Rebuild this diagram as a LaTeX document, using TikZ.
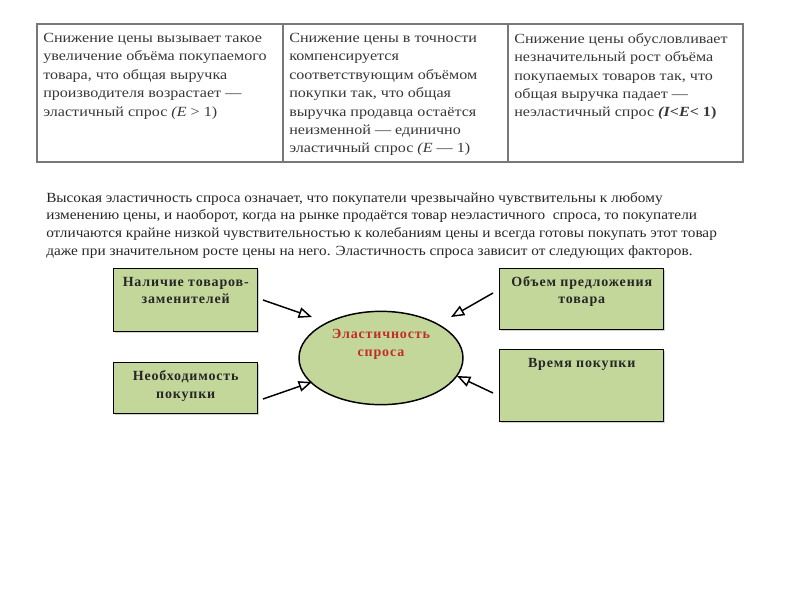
\documentclass[tikz,border=0pt]{standalone}
\usepackage{fontspec}
\setmainfont{Liberation Serif}
\newfontfamily\cellfont[FakeStretch=1.15]{Liberation Serif}
\newfontfamily\parafont[FakeStretch=1.09]{Liberation Serif}
\newfontfamily\boxfont[LetterSpace=6]{Liberation Serif}
\usetikzlibrary{arrows.meta,shapes.geometric,shadows}
\definecolor{boxgreen}{RGB}{196,215,155}
\definecolor{txtgray}{RGB}{55,55,55}
\definecolor{tabline}{RGB}{120,120,120}
\definecolor{elred}{RGB}{192,45,38}
\begin{document}
\begin{tikzpicture}[x=0.75pt,y=-0.75pt,
  celltext/.style={anchor=north west,inner sep=0pt,align=left,text=txtgray,font=\cellfont\fontsize{10.5}{13.8}\selectfont},
  paratext/.style={anchor=north west,inner sep=0pt,align=left,text=black!85,font=\parafont\fontsize{10.5}{13.2}\selectfont},
  fbox/.style={draw=black,line width=1.1pt,fill=boxgreen,rectangle,inner sep=0pt,anchor=north west,drop shadow={shadow xshift=1pt,shadow yshift=-1pt,fill=black!35}},
  boxtext/.style={anchor=north,inner sep=0pt,align=center,text=black!85,font=\boxfont\bfseries\fontsize{10.5}{13}\selectfont},
  conn/.style={line width=1.1pt,-{Triangle[open,length=10pt,width=8pt]}}
]
\useasboundingbox (0,0) rectangle (800,600);
% table
\draw[tabline,line width=1.1pt] (37,24) rectangle (743,162);
\draw[tabline,line width=0.9pt] (283,24) -- (283,162);
\draw[tabline,line width=0.9pt] (508,24) -- (508,162);
\node[celltext] (t1) at (43,33) {Снижение цены вызывает такое\\увеличение объёма покупаемого\\товара, что общая выручка\\производителя возрастает —\\эластичный спрос \textit{(E} > 1)};
\node[celltext] (t2) at (289,33) {Снижение цены в точности\\компенсируется\\соответствующим объёмом\\покупки так, что общая\\выручка продавца остаётся\\неизменной — единично\\эластичный спрос \textit{(E} — 1)};
\node[celltext] (t3) at (514,33) {Снижение цены обусловливает\\незначительный рост объёма\\покупаемых товаров так, что\\общая выручка падает —\\неэластичный спрос \textbf{\textit{(I<E}< 1)}};
% paragraph
\node[paratext] (p) at (46,192) {Высокая эластичность спроса означает, что покупатели чрезвычайно чувствительны к любому\\изменению цены, и наоборот, когда на рынке продаётся товар неэластичного\ \ спроса, то покупатели\\отличаются крайне низкой чувствительностью к колебаниям цены и всегда готовы покупать этот товар\\даже при значительном росте цены на него. Эластичность спроса зависит от следующих факторов.};
% boxes
\node[fbox,minimum width=108pt,minimum height=47.25pt] (b1) at (113,268) {};
\node[boxtext] (b1t) at ([yshift=-6.5pt]b1.north) {Наличие товаров-\\заменителей};
\node[fbox,minimum width=108pt,minimum height=38.25pt] (b2) at (113,362) {};
\node[boxtext] (b2t) at ([yshift=-6.5pt]b2.north) {Необходимость\\покупки};
\node[fbox,minimum width=123pt,minimum height=45.75pt] (b3) at (499,268) {};
\node[boxtext] (b3t) at ([yshift=-6pt]b3.north) {Объем предложения\\товара};
\node[fbox,minimum width=123pt,minimum height=54pt] (b4) at (499,349) {};
\node[boxtext] (b4t) at ([yshift=-7pt]b4.north) {Время покупки};
% ellipse
\node[ellipse,draw=black,line width=1.1pt,fill=boxgreen,minimum width=123pt,minimum height=70pt,inner sep=0pt] (el) at (381,358) {};
\node[boxtext,text=elred] (elt) at ([yshift=-14pt]el.north) {Эластичность\\спроса};
% connectors
\coordinate (s1) at (263,300); \coordinate (e1) at (312,317);
\coordinate (s2) at (263,399); \coordinate (e2) at (312,382);
\coordinate (s3) at (493,293); \coordinate (e3) at (451,317);
\coordinate (s4) at (493,393); \coordinate (e4) at (457,376);
\draw[conn] (s1) -- (e1);
\draw[conn] (s2) -- (e2);
\draw[conn] (s3) -- (e3);
\draw[conn] (s4) -- (e4);
\end{tikzpicture}
\end{document}
